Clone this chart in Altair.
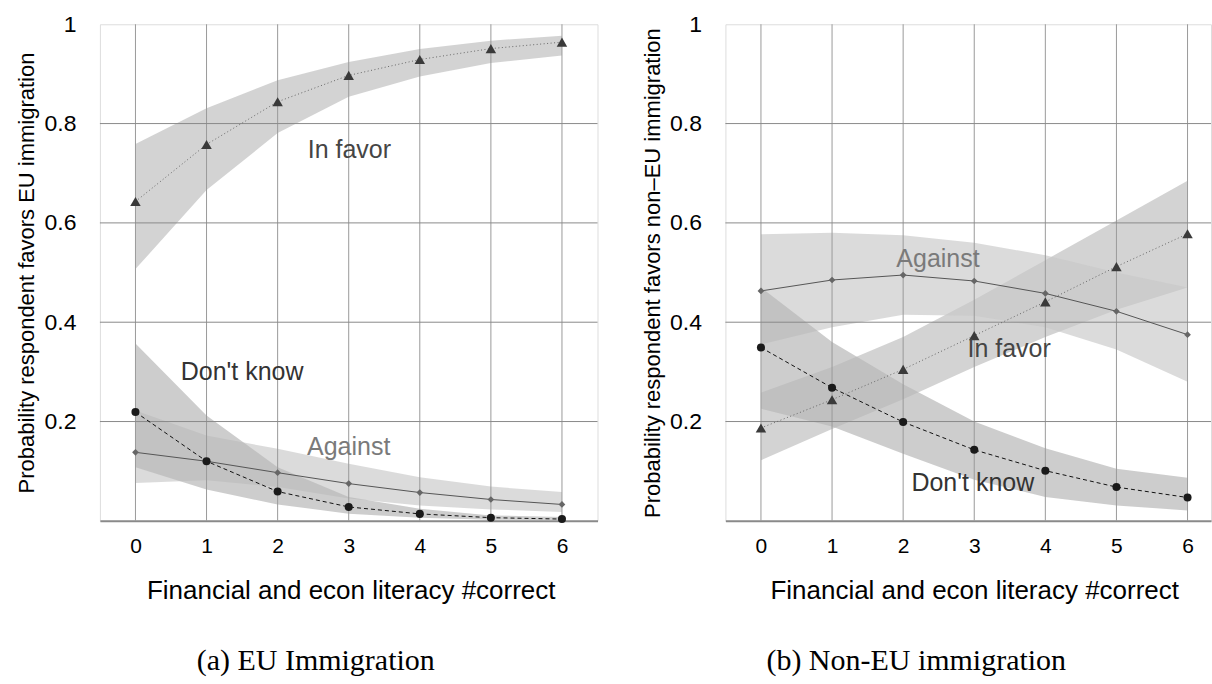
import altair as alt
import pandas as pd

x_vals = [0, 1, 2, 3, 4, 5, 6]

# ---- (a) EU immigration ----
eu_favor = [0.643, 0.758, 0.844, 0.897, 0.929, 0.951, 0.964]
eu_favor_lo = [0.507, 0.666, 0.781, 0.854, 0.895, 0.922, 0.937]
eu_favor_hi = [0.759, 0.831, 0.887, 0.924, 0.950, 0.967, 0.977]
eu_against = [0.138, 0.120, 0.097, 0.075, 0.057, 0.043, 0.033]
eu_against_lo = [0.076, 0.082, 0.068, 0.045, 0.031, 0.023, 0.018]
eu_against_hi = [0.222, 0.172, 0.145, 0.115, 0.088, 0.069, 0.058]
eu_dk = [0.219, 0.120, 0.059, 0.028, 0.014, 0.0064, 0.0036]
eu_dk_lo = [0.108, 0.063, 0.033, 0.0145, 0.0064, 0.0024, 0.001]
eu_dk_hi = [0.357, 0.212, 0.108, 0.048, 0.0245, 0.011, 0.0077]

# ---- (b) Non-EU immigration ----
neu_favor = [0.187, 0.244, 0.305, 0.373, 0.441, 0.512, 0.578]
neu_favor_lo = [0.122, 0.185, 0.245, 0.310, 0.370, 0.425, 0.470]
neu_favor_hi = [0.258, 0.310, 0.370, 0.445, 0.525, 0.605, 0.685]
neu_against = [0.463, 0.485, 0.495, 0.483, 0.458, 0.422, 0.375]
neu_against_lo = [0.355, 0.390, 0.415, 0.413, 0.390, 0.345, 0.280]
neu_against_hi = [0.577, 0.580, 0.575, 0.560, 0.535, 0.500, 0.470]
neu_dk = [0.349, 0.268, 0.199, 0.143, 0.101, 0.068, 0.047]
neu_dk_lo = [0.226, 0.190, 0.135, 0.083, 0.048, 0.031, 0.021]
neu_dk_hi = [0.470, 0.360, 0.275, 0.200, 0.146, 0.105, 0.087]

# in-plot labels
eu_lab_text = ["In favor", "Don't know", "Against"]
eu_lab_x = [3.01, 1.5, 3.0]
eu_lab_y = [0.746, 0.299, 0.148]
neu_lab_text = ["Against", "In favor", "Don't know"]
neu_lab_x = [2.49, 3.49, 2.98]
neu_lab_y = [0.528, 0.347, 0.076]

y_tick_vals = [0.2, 0.4, 0.6, 0.8, 1.0]
y_grid_vals = [0.2, 0.4, 0.6, 0.8]

FONT = "Liberation Sans"
SERIF = "Liberation Serif"
label_colors = {"In favor": "#454545", "Against": "#7a7a7a", "Don't know": "#333333"}


def mk(p, lo, hi):
    return pd.DataFrame({"x": x_vals, "p": p, "lo": lo, "hi": hi})


def panel(favor, against, dk, labels, ytitle, caption, xmax, width, cap_dx, title_x):
    xsc = alt.Scale(domain=[-0.5, xmax], nice=False, zero=False)
    ysc = alt.Scale(domain=[0, 1], nice=False, zero=False)
    xaxis = alt.Axis(values=x_vals, format="d", grid=False, ticks=False, domain=True,
                     domainColor="#8a8a8a", domainWidth=2, labelFont=FONT, labelFontSize=21,
                     labelColor="black", labelPadding=15,
                     title="Financial and econ literacy #correct", titleFont=FONT,
                     titleFontSize=26, titleFontWeight="normal", titleColor="black",
                     titlePadding=21, titleX=title_x)
    yaxis = alt.Axis(values=y_tick_vals, format=".1~f", grid=False, ticks=False, domain=False,
                     labelFont=FONT, labelFontSize=23, labelColor="black", labelPadding=24,
                     title=ytitle, titleFont=FONT, titleFontSize=22, titleFontWeight="normal",
                     titleColor="black", titlePadding=5)

    def X(f):
        return alt.X(f"{f}:Q", scale=xsc, axis=xaxis)

    def Y(f):
        return alt.Y(f"{f}:Q", scale=ysc, axis=yaxis)

    layers = []
    band_style = [(favor, "#c0c0c0", 0.7), (against, "#c8c8c8", 0.65), (dk, "#b8b8b8", 0.7)]
    for df, col, op in band_style:
        layers.append(alt.Chart(df).mark_area(color=col, opacity=op).encode(
            x=X("x"), y=Y("lo"), y2=alt.Y2("hi:Q")))

    vgrid = alt.Chart(pd.DataFrame({"gx": x_vals})).mark_rule(color="#9a9a9a", strokeWidth=1).encode(
        x=X("gx"))
    hgrid = alt.Chart(pd.DataFrame({"gy": y_grid_vals})).mark_rule(color="#8a8a8a", strokeWidth=1).encode(
        y=Y("gy"))
    layers += [vgrid, hgrid]

    layers.append(alt.Chart(favor).mark_line(color="#666666", strokeWidth=1, strokeDash=[1, 2.5]).encode(
        x=X("x"), y=Y("p")))
    layers.append(alt.Chart(against).mark_line(color="#555555", strokeWidth=1).encode(
        x=X("x"), y=Y("p")))
    layers.append(alt.Chart(dk).mark_line(color="#111111", strokeWidth=1, strokeDash=[4, 3]).encode(
        x=X("x"), y=Y("p")))

    layers.append(alt.Chart(favor).mark_point(shape="triangle-up", filled=True, size=110,
                                              color="#3a3a3a", opacity=1).encode(x=X("x"), y=Y("p")))
    layers.append(alt.Chart(against).mark_point(shape="diamond", filled=True, size=45,
                                                color="#666666", opacity=1).encode(x=X("x"), y=Y("p")))
    layers.append(alt.Chart(dk).mark_point(shape="circle", filled=True, size=65,
                                           color="#1a1a1a", opacity=1).encode(x=X("x"), y=Y("p")))

    lab_text, lab_x, lab_y = labels
    lab_df = pd.DataFrame({"lx": lab_x, "ly": lab_y, "t": lab_text,
                           "c": [label_colors[t] for t in lab_text]})
    layers.append(alt.Chart(lab_df).mark_text(font=FONT, fontSize=25, align="center",
                                              baseline="middle").encode(
        x=X("lx"), y=Y("ly"), text="t:N", color=alt.Color("c:N", scale=None)))

    return alt.layer(*layers).properties(
        width=width, height=497,
        title=alt.TitleParams(caption, orient="bottom", font=SERIF, fontSize=30,
                              fontWeight="normal", color="black", offset=42, dx=cap_dx))


left = panel(mk(eu_favor, eu_favor_lo, eu_favor_hi),
             mk(eu_against, eu_against_lo, eu_against_hi),
             mk(eu_dk, eu_dk_lo, eu_dk_hi),
             (eu_lab_text, eu_lab_x, eu_lab_y),
             "Probability respondent favors EU immigration", "(a) EU Immigration",
             6.5, 498, -33, 251)
right = panel(mk(neu_favor, neu_favor_lo, neu_favor_hi),
              mk(neu_against, neu_against_lo, neu_against_hi),
              mk(neu_dk, neu_dk_lo, neu_dk_hi),
              (neu_lab_text, neu_lab_x, neu_lab_y),
              "Probability respondent favors non\u2013EU immigration", "(b) Non-EU immigration",
              6.33, 486, -52, 249)

chart = alt.hconcat(left, right, spacing=42).properties(
    padding={"left": 15, "top": 12, "right": 0, "bottom": 0}
).configure_view(stroke=None).configure(background="white")

chart.save("out.html", embed_options={"renderer": "svg", "actions": False})
